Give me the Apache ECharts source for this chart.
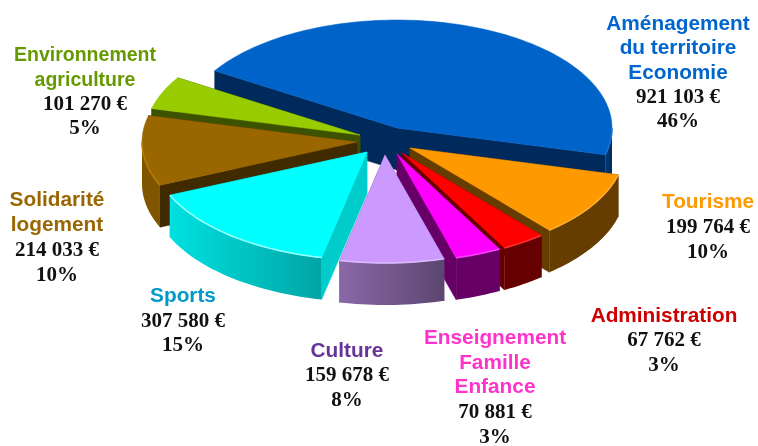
<!DOCTYPE html>
<html><head><meta charset="utf-8">
<style>html,body{margin:0;padding:0;background:#fff}#c{width:758px;height:446px}</style>
<script src="https://cdn.jsdelivr.net/npm/echarts@6/dist/echarts.min.js"></script>
</head><body><div id="c"></div>
<script>
// Data, clockwise from the large blue slice
const names = [
  ['Aménagement','du territoire','Economie'],
  ['Tourisme'],
  ['Administration'],
  ['Enseignement','Famille','Enfance'],
  ['Culture'],
  ['Sports'],
  ['Solidarité','logement'],
  ['Environnement','agriculture']
];
const values = [921103, 199764, 67762, 70881, 159678, 307580, 214033, 101270];
const percents = ['46%','10%','3%','3%','8%','15%','10%','5%'];

// Styling and layout, kept apart from the data
const topColors = ['#0063ca','#ff9900','#ff0000','#ff00ff','#cc99ff','#00ffff','#996600','#99cc00'];
const cutColors = ['#002a5c','#663d00','#660000','#660066','#5c4670','#00cccc','#402a00','#3d5200'];
const wallFrom  = ['#003a7a','#663d00','#660000','#660066','#8a68a8','#00e0e0','#7f5500','#3d5200'];
const wallTo    = ['#002a5c','#663d00','#660000','#660066','#5c4670','#00a5a5','#7f5500','#3d5200'];
const bevels    = ['#1a73d0','#ffad33','#ff3333','#ff40ff','#dcbcff','#99ffff','#b87c00','#99cc00'];
const textColors = ['#0066cc','#ff9900','#cc0000','#ff33cc','#663399','#0099cc','#996600','#669900'];
const explode = [[0,0],[13,20],[5,25],[0,26],[-12,27],[-30,24],[-40,14],[-37,7]];
const drawOrder = [0,3,4,5,6,8,7,2]; // z per slice: back to front
const labelPos = [[678,12],[708,190],[664,304],[495,326],[347,339],[183,284],[57,188],[85,44]];
const nameSizes = [20.8,20.8,20.8,20.8,20.8,20.8,20.8,19.5];
const lineHeights = [24.4,25,24.6,24.7,24.6,24.8,25,24.2];
const CX = 397, CY = 128, RX = 215, RY = 108, DEPTH = 42, START = 212;

const total = values.reduce((a,b)=>a+b,0);
const toAngle = v => echarts.number.linearMap(v,[0,total],[START,START+360]);
let running = 0;
const spans = values.map(v=>{const s=[toAngle(running),toAngle(running+v)];running+=v;return s;});
const rad = d => d*Math.PI/180;
const euro = v => String(v).replace(/\B(?=(\d{3})+$)/g,' ')+' €';

function arcPts(c,a0,a1,dy){
  const n=Math.max(2,Math.ceil((a1-a0)/1.5)),p=[];
  for(let i=0;i<=n;i++){const t=rad(a0+(a1-a0)*i/n);
    p.push([c[0]+RX*Math.cos(t),c[1]+RY*Math.sin(t)+dy]);}
  return p;
}
function renderSlice(params,api){
  const i=params.dataIndex,[a0,a1]=spans[i];
  const c=[CX+explode[i][0],CY+explode[i][1]];
  const z=drawOrder[i]*10;
  const kids=[];
  const cut=a=>{const t=rad(a),e=[c[0]+RX*Math.cos(t),c[1]+RY*Math.sin(t)];
    kids.push({type:'polygon',z2:z,shape:{points:[c,e,[e[0],e[1]+DEPTH],[c[0],c[1]+DEPTH]]},
      style:{fill:cutColors[i],stroke:cutColors[i],lineWidth:.5}});};
  cut(a0);cut(a1);
  const fronts=[];
  [[0,180],[360,540]].forEach(([lo,hi])=>{
    const s=Math.max(a0,lo),e=Math.min(a1,hi);
    if(e<=s)return;
    const top=arcPts(c,s,e,0),bot=arcPts(c,s,e,DEPTH).reverse();
    fronts.push(top);
    kids.push({type:'polygon',z2:z+1,shape:{points:top.concat(bot)},
      style:{fill:new echarts.graphic.LinearGradient(1,0,0,0,[{offset:0,color:wallTo[i]},{offset:1,color:wallFrom[i]}]),lineWidth:0}});
  });
  kids.push({type:'polygon',z2:z+2,shape:{points:[c].concat(arcPts(c,a0,a1,0))},
    style:{fill:topColors[i],stroke:topColors[i],lineWidth:.5}});
  fronts.forEach(pts=>kids.push({type:'polyline',z2:z+3,shape:{points:pts},
    style:{fill:null,stroke:bevels[i],lineWidth:1.5}}));
  return {type:'group',children:kids};
}
const graphics=names.map((lines,i)=>{
  const r={
    n:{fontFamily:'Liberation Sans',fontWeight:'bold',fontSize:nameSizes[i],lineHeight:lineHeights[i],fill:textColors[i],align:'center'},
    v:{fontFamily:'Liberation Serif',fontWeight:'bold',fontSize:21,lineHeight:lineHeights[i],fill:'#111111',align:'center'}
  };
  return {type:'text',x:labelPos[i][0],y:labelPos[i][1],z:100,silent:true,
    style:{align:'center',verticalAlign:'top',
      text:lines.map(l=>'{n|'+l+'}').concat(['{v|'+euro(values[i])+'}','{v|'+percents[i]+'}']).join('\n'),
      rich:r}};
});
const chart=echarts.init(document.getElementById('c'),null,{renderer:'canvas'});
chart.setOption({
  animation:false,backgroundColor:'#fff',
  graphic:graphics,
  series:[{type:'custom',coordinateSystem:'none',renderItem:renderSlice,silent:true,
    data:values.map((v,i)=>({name:names[i].join(' '),value:[v]}))}]
});
</script></body></html>
